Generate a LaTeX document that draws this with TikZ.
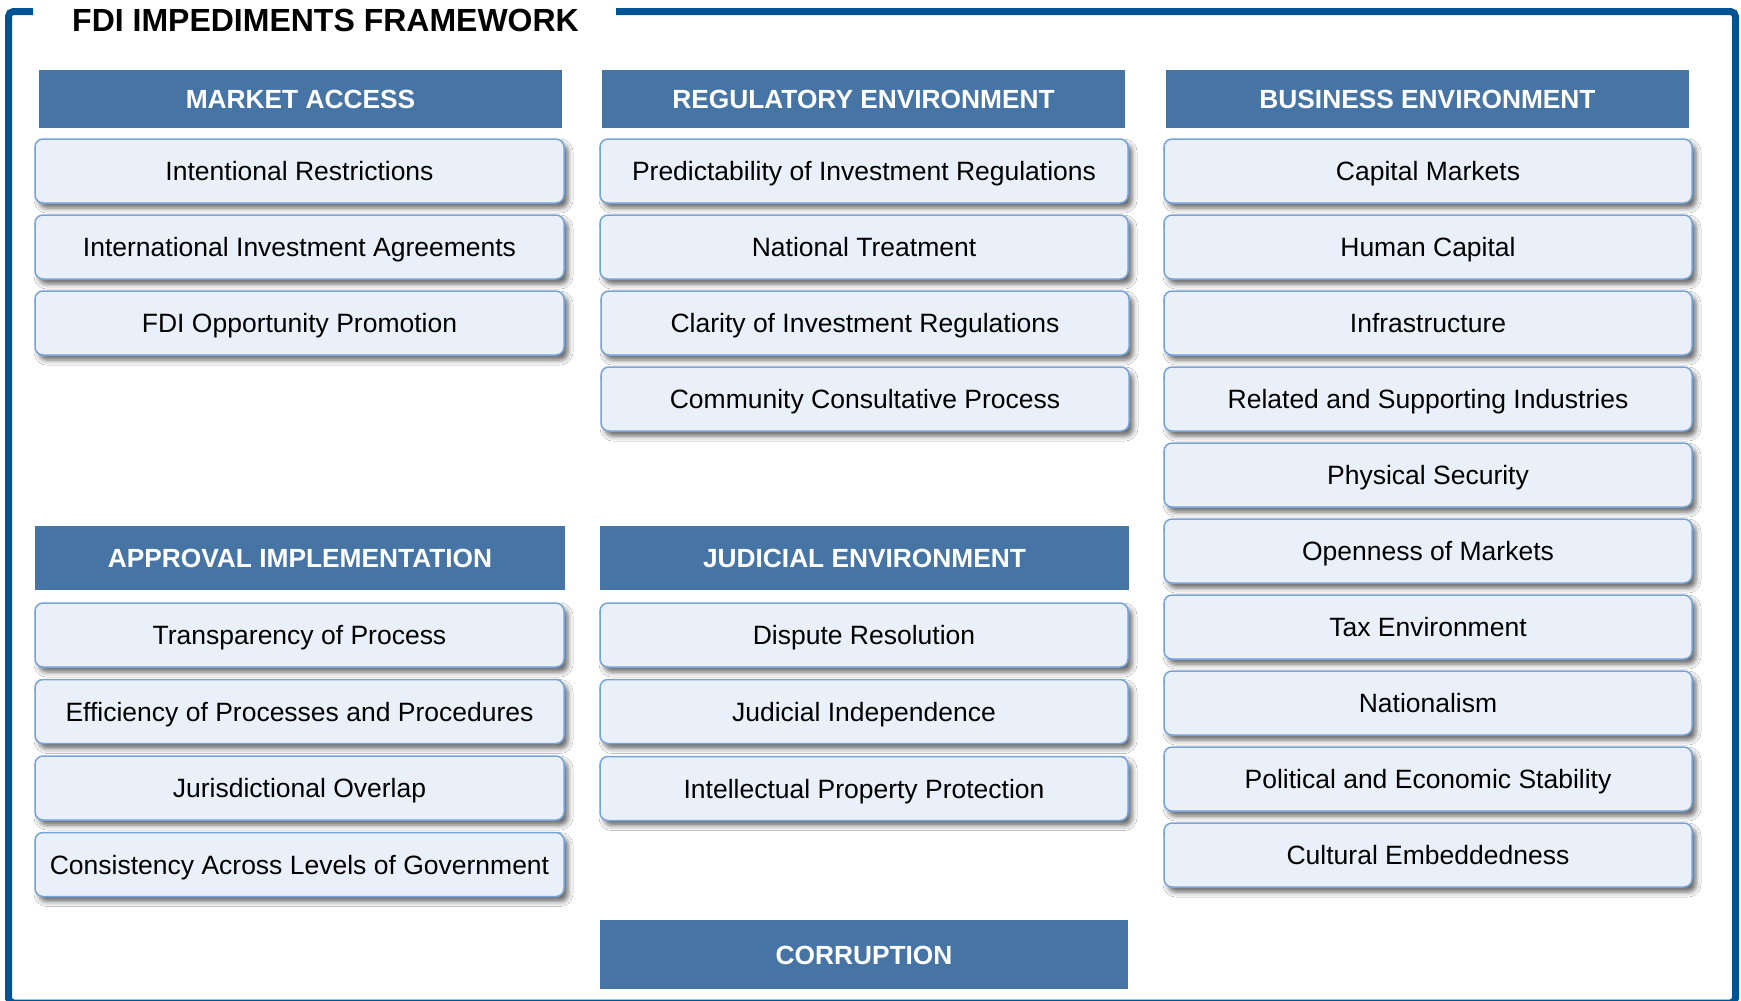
\documentclass[tikz,border=0pt]{standalone}
\usepackage{fontspec}
\setmainfont{Liberation Sans}
\usetikzlibrary{shadows.blur}
\definecolor{framecol}{RGB}{0,84,147}
\definecolor{headcol}{RGB}{70,116,164}
\definecolor{itemfill}{RGB}{233,240,249}
\definecolor{itemdraw}{RGB}{118,163,218}
\tikzset{
  hdr/.style={anchor=north west, fill=headcol, draw=none, inner sep=0pt, outer sep=0pt,
    text height=19pt, text depth=0pt,
    text=white, font=\fontsize{26.3}{30}\selectfont\bfseries, align=center},
  itm/.style={anchor=north west, fill=itemfill, draw=itemdraw, line width=1.5pt,
    rounded corners=8pt, inner sep=0pt, outer sep=0pt, minimum height=64pt,
    text height=19pt, text depth=0pt,
    text=black, font=\fontsize{26.5}{30}\selectfont, align=center,
    blur shadow={shadow xshift=4pt, shadow yshift=-5pt, shadow blur radius=5pt, shadow opacity=60}},
  c1/.style={itm, minimum width=529pt},
  c2/.style={itm, minimum width=528pt},
  c3/.style={itm, minimum width=528pt}
}
\begin{document}
\begin{tikzpicture}[x=1pt,y=-1pt]
\useasboundingbox (0,0) rectangle (1741,1001);
\fill[white] (0,0) rectangle (1741,1001);
% frame
\draw[framecol, line width=7pt, rounded corners=5pt]
  (33,11.5) -- (8.5,11.5) -- (8.5,1003) -- (1735.5,1003) -- (1735.5,11.5) -- (616,11.5);
\node[anchor=base west, inner sep=0pt, font=\fontsize{32}{36}\selectfont\bfseries] (title) at (72,31) {FDI IMPEDIMENTS FRAMEWORK};
% headers
\node[hdr, minimum width=523pt, minimum height=58pt] (h1) at (39,70) {MARKET ACCESS};
\node[hdr, minimum width=523pt, minimum height=58pt] (h2) at (602,70) {REGULATORY ENVIRONMENT};
\node[hdr, minimum width=523pt, minimum height=58pt] (h3) at (1166,70) {BUSINESS ENVIRONMENT};
\node[hdr, minimum width=530pt, minimum height=64pt] (h4) at (35,526) {APPROVAL IMPLEMENTATION};
\node[hdr, minimum width=529pt, minimum height=64pt] (h5) at (600,526) {JUDICIAL ENVIRONMENT};
\node[hdr, minimum width=528pt, minimum height=69pt] (h6) at (600,920) {CORRUPTION};
% column 1
\node[c1] (a1) at (35,139) {Intentional Restrictions};
\node[c1] (a2) at (35,215) {International Investment Agreements};
\node[c1] (a3) at (35,291) {FDI Opportunity Promotion};
\node[c1] (a4) at (35,603) {Transparency of Process};
\node[c1] (a5) at (35,679.5) {Efficiency of Processes and Procedures};
\node[c1] (a6) at (35,756) {Jurisdictional Overlap};
\node[c1] (a7) at (35,832.5) {Consistency Across Levels of Government};
% column 2
\node[c2] (b1) at (600,139) {Predictability of Investment Regulations};
\node[c2] (b2) at (600,215) {National Treatment};
\node[c2] (b3) at (601,291) {Clarity of Investment Regulations};
\node[c2] (b4) at (601,367) {Community Consultative Process};
\node[c2] (b5) at (600,603) {Dispute Resolution};
\node[c2] (b6) at (600,679.5) {Judicial Independence};
\node[c2] (b7) at (600,756.5) {Intellectual Property Protection};
% column 3
\node[c3] (d1) at (1164,139) {Capital Markets};
\node[c3] (d2) at (1164,215) {Human Capital};
\node[c3] (d3) at (1164,291) {Infrastructure};
\node[c3] (d4) at (1164,367) {Related and Supporting Industries};
\node[c3] (d5) at (1164,443) {Physical Security};
\node[c3] (d6) at (1164,519) {Openness of Markets};
\node[c3] (d7) at (1164,595) {Tax Environment};
\node[c3] (d8) at (1164,671) {Nationalism};
\node[c3] (d9) at (1164,747) {Political and Economic Stability};
\node[c3] (d10) at (1164,823) {Cultural Embeddedness};
\end{tikzpicture}
\end{document}
